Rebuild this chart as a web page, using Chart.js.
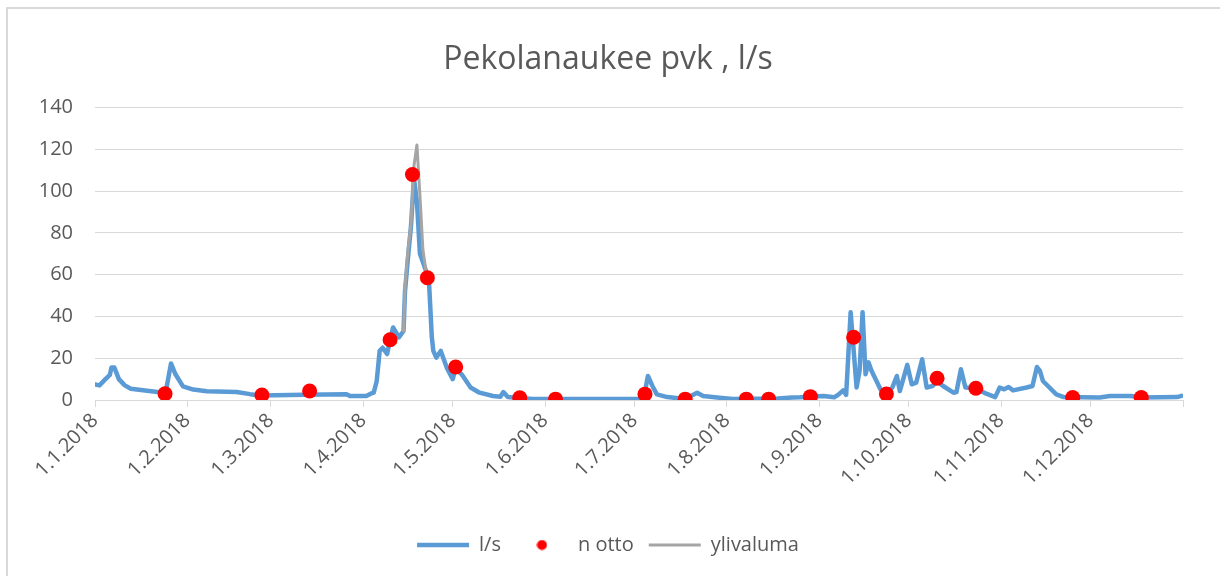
<!DOCTYPE html>
<html>
<head>
<meta charset="utf-8">
<title>Pekolanaukee pvk</title>
<script src="https://cdn.jsdelivr.net/npm/chart.js@4.4.1/dist/chart.umd.min.js"></script>
<style>
    html, body { margin: 0; padding: 0; background: #fff; overflow: hidden; }
    #wrap { position: relative; width: 1220px; height: 576px; }
    #frame {
        position: absolute; left: 6px; top: 7px; right: -10px; bottom: -10px;
        border: 2px solid #d9d9d9;
        pointer-events: none;
    }
</style>
</head>
<body>
<div id="wrap">
    <canvas id="chart"></canvas>
    <div id="frame"></div>
</div>
<script>
// x = day of year 2018 (0 = 1.1.2018)
const monthStarts = [0, 31, 59, 90, 120, 151, 181, 212, 243, 273, 304, 334, 365];
const monthLabels = ['1.1.2018', '1.2.2018', '1.3.2018', '1.4.2018', '1.5.2018', '1.6.2018',
    '1.7.2018', '1.8.2018', '1.9.2018', '1.10.2018', '1.11.2018', '1.12.2018', ''];

// l/s (virtaama)
const flowDays = [0, 1.5, 3.5, 5, 5.5, 6.5, 8, 10, 12, 17.5, 23, 24, 25.5, 27, 29.5, 33, 37.5, 47.5, 52, 55.5,
    70, 84.5, 85.5, 91, 92.5, 93.5, 94.5, 95.5, 96.5, 98, 99, 100, 102, 103.5, 104, 105, 106, 107, 108, 109, 110,
    111, 112, 113, 113.5, 114.5, 116, 118, 120, 121, 123, 126, 129, 133.5, 136, 137, 138.5, 142, 147, 184,
    185.5, 187, 188.5, 192, 198, 202, 204, 209.5, 214, 229, 234, 236.5, 244.5, 248, 249.5, 251, 252, 253.5,
    255.5, 256.5, 257.5, 258.5, 259.5, 260.5, 263.5, 265.5, 267.5, 269, 270, 272.5, 274, 275.5, 277.5, 279,
    281, 282.5, 284.5, 288, 289, 290.5, 292, 295.5, 299, 302, 303.5, 305, 306.5, 308, 312.5, 314.5, 316,
    317, 318, 322.5, 325, 337, 340.5, 347.5, 351, 363, 364.5];
const flowValues = [7.5, 7, 10, 12, 15.5, 15.5, 10, 7, 5.4, 4.4, 3.5, 5.9, 17.5, 12.3, 6.5, 5, 4.2, 3.8, 2.8, 2.2,
    2.5, 2.7, 1.9, 1.9, 3, 3.5, 9, 23.5, 25, 22, 29, 34.7, 30, 33, 52, 68, 83, 106, 95, 70, 66,
    62, 58, 30, 23.5, 20.3, 23.5, 15.5, 10, 15, 12.3, 6, 3.5, 1.9, 1.6, 3.8, 1.4, 1, 0.5, 0.5,
    11.5, 6.7, 2.7, 1.4, 0.5, 3.5, 1.9, 1.1, 0.5, 0.7, 1.2, 1.3, 1.9, 1.3, 2.7, 4.6, 2.4, 42,
    6, 14, 42, 12.3, 18, 14, 5.1, 3, 6, 11.5, 4.3, 16.8, 7.5, 8.3, 19.5, 6,
    6.7, 9, 6.7, 3.5, 3.8, 14.7, 6, 5.6, 3, 1.4, 6, 5.1, 6.2, 4.6, 6, 6.7, 15.8,
    13.9, 9.1, 2.7, 1.4, 1.2, 1.9, 1.9, 1.2, 1.4, 2];

// n otto (näytteenotto)
const sampleDays = [23.5, 56, 72, 99, 106.5, 111.5, 121, 142.5, 154.5, 184.5, 198, 218.5, 226, 240, 254.5,
    265.5, 282.5, 295.5, 328, 351];
const sampleValues = [3, 2.4, 4.3, 28.8, 107.9, 58.5, 15.8, 1.1, 0.4, 2.8, 0.4, 0.4, 0.4, 1.6, 30,
    2.9, 10.4, 5.6, 1.2, 1.2];

// ylivaluma
const overflowDays = [103.5, 104, 105, 106, 107, 108, 109, 110, 111, 112];
const overflowValues = [33, 54, 72, 84, 112, 122, 98, 72, 62, 58.5];

const yTicks = { min: 0, max: 140, step: 20 };

const textColor = '#595959';
const gridColor = '#d9d9d9';
const fontFamily = '"Open Sans", "Noto Sans", sans-serif';

function pairs(xs, ys) {
    return xs.map((x, i) => ({ x: x, y: ys[i] }));
}

// small round marker for the legend, so the 52px box width does not stretch it
function legendDot(color) {
    const c = document.createElement('canvas');
    c.width = 11;
    c.height = 11;
    const g = c.getContext('2d');
    g.fillStyle = color;
    g.beginPath();
    g.arc(5.5, 5.5, 5, 0, Math.PI * 2);
    g.fill();
    return c;
}
const dotMarker = legendDot('#ff0000');

new Chart(document.getElementById('chart'), {
    type: 'line',
    data: {
        datasets: [
            {
                label: 'l/s',
                data: pairs(flowDays, flowValues),
                borderColor: '#5b9bd5',
                backgroundColor: '#5b9bd5',
                borderWidth: 4.5,
                borderJoinStyle: 'round',
                borderCapStyle: 'round',
                pointRadius: 0,
                pointStyle: 'line',
                pointBorderWidth: 4.5,
                tension: 0,
                order: 3
            },
            {
                label: 'n otto',
                data: pairs(sampleDays, sampleValues),
                showLine: false,
                borderColor: '#ff0000',
                backgroundColor: '#ff0000',
                pointBackgroundColor: '#ff0000',
                pointBorderWidth: 0,
                pointRadius: 7.5,
                pointStyle: 'circle',
                order: 1
            },
            {
                label: 'ylivaluma',
                data: pairs(overflowDays, overflowValues),
                borderColor: '#a5a5a5',
                backgroundColor: '#a5a5a5',
                borderWidth: 3,
                borderJoinStyle: 'round',
                borderCapStyle: 'round',
                pointRadius: 0,
                pointStyle: 'line',
                pointBorderWidth: 3,
                tension: 0,
                order: 2
            }
        ]
    },
    options: {
        responsive: true,
        maintainAspectRatio: false,
        animation: false,
        layout: { padding: { top: 0, left: 33, right: 37, bottom: 11 } },
        plugins: {
            title: {
                display: true,
                text: 'Pekolanaukee pvk , l/s',
                color: textColor,
                font: { family: fontFamily, size: 32, weight: 'normal' },
                padding: { top: 41, bottom: 28 }
            },
            legend: {
                position: 'bottom',
                labels: {
                    usePointStyle: true,
                    pointStyleWidth: 52,
                    boxHeight: 7,
                    color: textColor,
                    font: { family: fontFamily, size: 20 },
                    padding: 15,
                    sort: (a, b) => a.datasetIndex - b.datasetIndex,
                    generateLabels: (chart) => {
                        const items = Chart.defaults.plugins.legend.labels.generateLabels(chart);
                        items.forEach((item) => {
                            if (item.datasetIndex === 1) item.pointStyle = dotMarker;
                        });
                        return items;
                    }
                }
            },
            tooltip: { enabled: false }
        },
        scales: {
            x: {
                type: 'linear',
                min: monthStarts[0],
                max: monthStarts[monthStarts.length - 1],
                afterBuildTicks: (scale) => {
                    scale.ticks = monthStarts.map((v) => ({ value: v }));
                },
                afterFit: (scale) => { scale.height = 120; },
                ticks: {
                    autoSkip: false,
                    minRotation: 45,
                    maxRotation: 45,
                    padding: 2,
                    color: textColor,
                    font: { family: fontFamily, size: 20 },
                    callback: (value) => monthLabels[monthStarts.indexOf(value)]
                },
                grid: { drawOnChartArea: false, drawTicks: true, tickLength: 7, color: gridColor },
                border: { color: gridColor, width: 1 }
            },
            y: {
                min: yTicks.min,
                max: yTicks.max,
                afterFit: (scale) => { scale.width = 62; },
                ticks: {
                    stepSize: yTicks.step,
                    padding: 22,
                    color: textColor,
                    font: { family: fontFamily, size: 20 }
                },
                grid: { color: gridColor, drawTicks: false },
                border: { display: false }
            }
        }
    }
});
</script>
</body>
</html>
